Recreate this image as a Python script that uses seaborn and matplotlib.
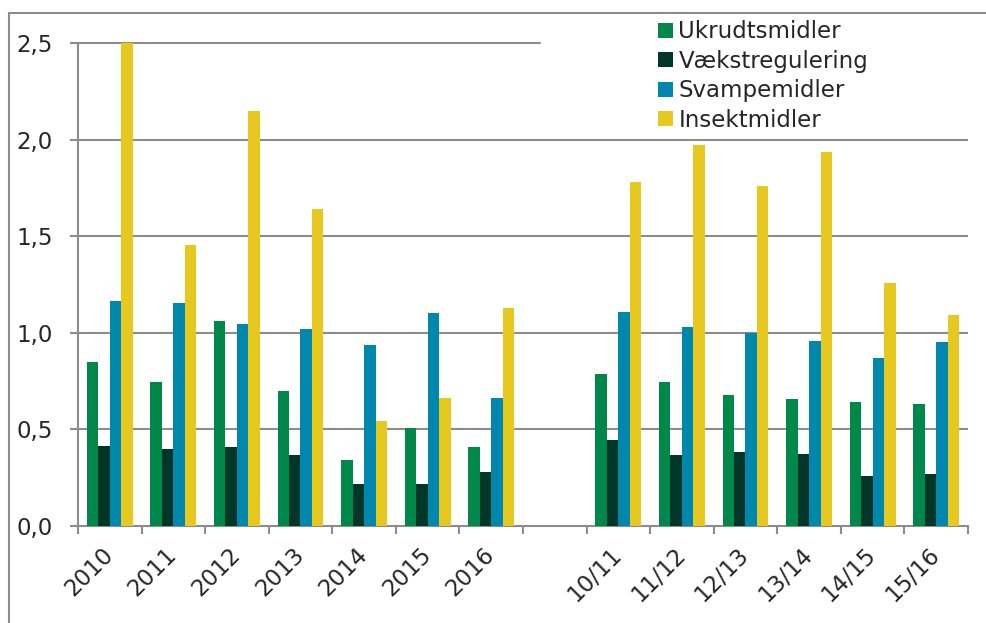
import numpy as np
import pandas as pd
import matplotlib
matplotlib.use("Agg")
import matplotlib.pyplot as plt
from matplotlib.lines import Line2D
import seaborn as sns

# Categories: calendar years, then a blank slot, then growing seasons
years = ["2010", "2011", "2012", "2013", "2014", "2015", "2016"]
seasons = ["10/11", "11/12", "12/13", "13/14", "14/15", "15/16"]
gap = [""]

series_names = ["Ukrudtsmidler", "Vækstregulering", "Svampemidler", "Insektmidler"]
ukrudtsmidler = [0.85, 0.745, 1.06, 0.70, 0.34, 0.505, 0.41,
                 0.785, 0.745, 0.68, 0.655, 0.64, 0.63]
vaekstregulering = [0.415, 0.40, 0.41, 0.365, 0.215, 0.215, 0.28,
                    0.445, 0.365, 0.385, 0.375, 0.26, 0.27]
svampemidler = [1.165, 1.155, 1.045, 1.02, 0.935, 1.105, 0.665,
                1.11, 1.03, 1.0, 0.955, 0.87, 0.95]
insektmidler = [2.5, 1.455, 2.15, 1.64, 0.545, 0.665, 1.13,
                1.78, 1.97, 1.76, 1.935, 1.26, 1.09]

y_ticks = [0.0, 0.5, 1.0, 1.5, 2.0, 2.5]
y_tick_labels = ["0,0", "0,5", "1,0", "1,5", "2,0", "2,5"]

colors = ["#00874A", "#003728", "#0087AD", "#E6C81E"]
grid_color = "#8C8C8C"

periods = years + seasons
order = years + gap + seasons
rows = []
for name, vals in zip(series_names,
                      [ukrudtsmidler, vaekstregulering, svampemidler, insektmidler]):
    for p, v in zip(periods, vals):
        rows.append({"periode": p, "serie": name, "vaerdi": v})
df = pd.DataFrame(rows)

sns.set_style("white")
plt.rcParams["font.family"] = ["DejaVu Sans"]
FS = 16.5

W, H = 987, 623
fig = plt.figure(figsize=(W / 100, H / 100), dpi=100)
ax = fig.add_axes([78 / W, 1 - 526 / H, (968 - 78) / W, (526 - 43) / H])

sns.barplot(data=df, x="periode", y="vaerdi", hue="serie", order=order,
            hue_order=series_names, palette=colors, width=0.72, gap=0,
            edgecolor="none", saturation=1, errorbar=None, ax=ax, zorder=3)

ax.set_ylim(0, 2.5)
ax.set_xlim(-0.5, len(order) - 0.5)
ax.set_xlabel("")
ax.set_ylabel("")

# Horizontal gridlines; the top one stops where the legend sits
for yv in y_ticks[1:-1]:
    ax.axhline(yv, color=grid_color, lw=1.5, zorder=1)
ax.axhline(2.5, xmin=0, xmax=(540 - 78) / (968 - 78), color=grid_color,
           lw=1.5, zorder=1, clip_on=False)

for s in ["top", "right"]:
    ax.spines[s].set_visible(False)
for s in ["left", "bottom"]:
    ax.spines[s].set_color(grid_color)
    ax.spines[s].set_linewidth(1.5)

ax.set_yticks(y_ticks)
ax.set_yticklabels(y_tick_labels)
ax.tick_params(axis="y", which="major", length=6, width=1.5, color=grid_color,
               labelsize=FS, pad=12, direction="out", left=True)

ax.set_xticks(np.arange(len(order)))
ax.set_xticklabels(order)
ax.set_xticks(np.arange(-0.5, len(order), 1), minor=True)
ax.tick_params(axis="x", which="major", length=0, labelsize=FS, pad=18)
ax.tick_params(axis="x", which="minor", length=6, width=1.5, color=grid_color,
               direction="out", bottom=True)
for lab in ax.get_xticklabels():
    lab.set_rotation(45)
    lab.set_ha("right")
    lab.set_va("center")
    lab.set_rotation_mode("anchor")

handles, labels = ax.get_legend_handles_labels()
leg = ax.legend(handles, labels, loc="upper left",
                bbox_to_anchor=(647 / W, 1 - 9 / H),
                bbox_transform=fig.transFigure, frameon=False,
                fontsize=FS, handlelength=0.62, handleheight=0.62,
                handletextpad=0.25, labelspacing=0.28, borderpad=0)

# Outer frame lines
fig.add_artist(Line2D([9 / W, 9 / W], [0, 1 - 13 / H], color=grid_color, lw=1.5,
                      transform=fig.transFigure))
fig.add_artist(Line2D([9 / W, 1], [1 - 13 / H, 1 - 13 / H], color=grid_color, lw=1.5,
                      transform=fig.transFigure))

fig.savefig("out.png", dpi=100)
